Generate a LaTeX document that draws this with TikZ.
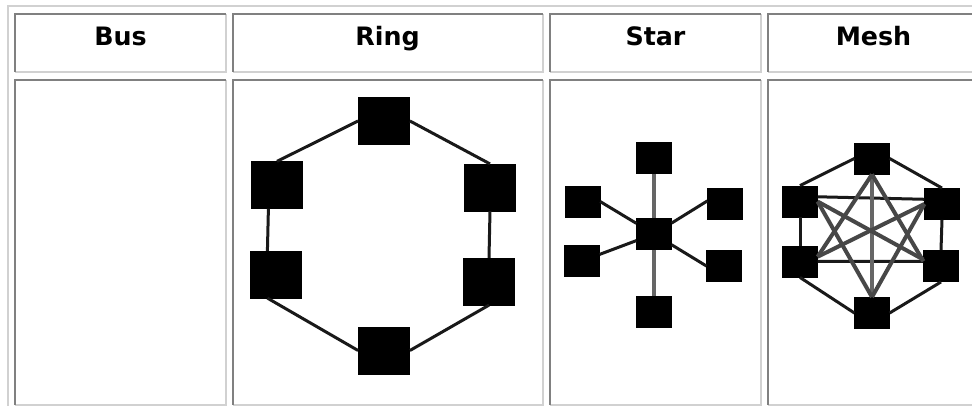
\documentclass[tikz,border=0pt]{standalone}
\usepackage{fontspec}
\setmainfont{DejaVu Sans}
\usepackage{tikz}
\tikzset{
blackboxv1/.style={rectangle, draw=black!100,fill=black!100, inner sep=0pt, minimum width= 38.5pt, minimum height = 35pt},
blackboxv2/.style={rectangle, draw=black!100,fill=black!100, inner sep=0pt, minimum width= 26pt, minimum height = 23.5pt},
headnode/.style={anchor=base, inner sep=0pt, font=\fontsize{19pt}{23pt}\selectfont\bfseries},
darkedge/.style={draw=black!50, line width=1.5pt},
lightedge/.style={draw=black!18, line width=1.5pt},
wire/.style={black!90, line width=2.25pt},
greywire/.style={black!60, line width=3pt},
meshwire/.style={black!72, line width=3pt},
}

\begin{document}
\begin{tikzpicture}[x=0.75pt,y=-0.75pt]
\useasboundingbox (0,0) rectangle (972,406);
\clip (0,0) rectangle (972,406);
%table
\draw[lightedge] (8,410) |- (980,6);
\draw[lightedge] (15,72) -| (226,14);
\draw[darkedge] (15,72) |- (226,14);
\draw[lightedge] (233,72) -| (543,14);
\draw[darkedge] (233,72) |- (543,14);
\draw[lightedge] (550,72) -| (761,14);
\draw[darkedge] (550,72) |- (761,14);
\draw[lightedge] (768,72) -| (979,14);
\draw[darkedge] (768,72) |- (979,14);
\draw[lightedge] (15,405) -| (226,80);
\draw[darkedge] (15,405) |- (226,80);
\draw[lightedge] (233,405) -| (543,80);
\draw[darkedge] (233,405) |- (543,80);
\draw[lightedge] (550,405) -| (761,80);
\draw[darkedge] (550,405) |- (761,80);
\draw[lightedge] (768,405) -| (979,80);
\draw[darkedge] (768,405) |- (979,80);
\node[headnode] at (120.5,45.3) (bus) {Bus};
\node[headnode] at (387.5,45.3) (ring) {Ring};
\node[headnode] at (655.5,45.3) (star) {Star};
\node[headnode] at (873.5,45.3) (mesh) {Mesh};
%ring
\node[blackboxv1] at (384,121) (t) {};
\node[blackboxv1] at (277,185) (lt) {};
\node[blackboxv1] at (276,274.5) (lb) {};
\node[blackboxv1] at (490,187.5) (rt) {};
\node[blackboxv1] at (489,281.5) (rb) {};
\node[blackboxv1] at (384,350.5) (b) {};
\draw[wire] (lt.north) to (t.west);
\draw[wire] (t.east) to (rt.north);
\draw[wire] (lt.250) to (lb.110);
\draw[wire] (rt.south) to (rb.north);
\draw[wire] (lb.250) to (b.west);
\draw[wire] (b.east) to (rb.south);
%star
\node[blackboxv2] at (654,158) (t) {};
\node[blackboxv2] at (654,234) (c) {};
\node[blackboxv2] at (654,312) (b) {};
\node[blackboxv2] at (582.5,201.5) (lt) {};
\node[blackboxv2] at (582,261) (lb) {};
\node[blackboxv2] at (725,204) (rt) {};
\node[blackboxv2] at (724,266) (rb) {};
\draw[greywire] (c) to (t);
\draw[greywire] (c) to (b);
\draw[wire] (c) to (lt.east);
\draw[wire] (c) to (lb);
\draw[wire] (c) to (rt.170);
\draw[wire] (c) to (rb.west);
%startofscope
\begin{scope}[xshift = 163.5pt]
\node[blackboxv2] at (654,158.5) (t) {};
\node[blackboxv2] at (654,313) (b) {};
\node[blackboxv2] at (582,201.5) (lt) {};
\node[blackboxv2] at (582,261.5) (lb) {};
\node[blackboxv2] at (724,204) (rt) {};
\node[blackboxv2] at (723,266) (rb) {};
\draw[wire] (lt.north) to (t.west);
\draw[wire] (t.east) to (rt.north);
\draw[wire] (lt.south) to (lb.north);
\draw[wire] (rt.south) to (rb.north);
\draw[wire] (lb.south) to (b.west);
\draw[wire] (b.east) to (rb.south);
\draw[wire] (lt.15) to (rt.165);
\draw[wire] (lb.east) to (rb.165);
\draw[greywire] (t) to (b);
\draw[meshwire] (t.south) to (lb.15);
\draw[meshwire] (t.south) to (rb.165);
\draw[meshwire] (b.north) to (lt.east);
\draw[meshwire] (b.north) to (rt.west);
\draw[meshwire] (lt.east) to (rb.160);
\draw[meshwire] (lb.15) to (rt.west);
\end{scope}
\end{tikzpicture}
\end{document}
